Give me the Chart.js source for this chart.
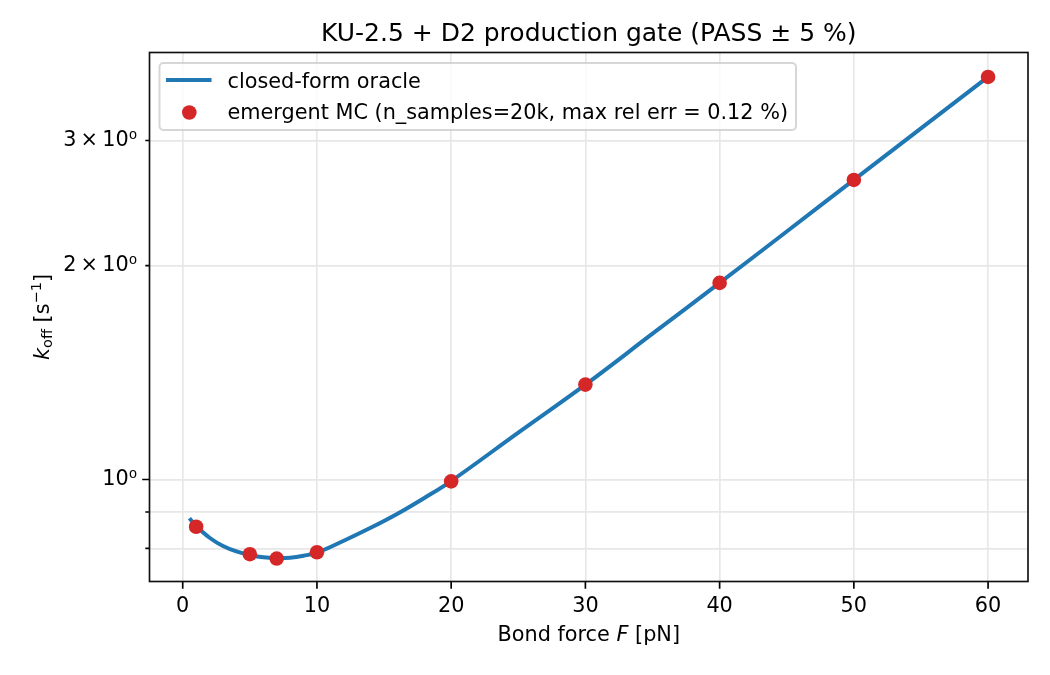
<!DOCTYPE html>
<html lang="en">
<head>
    <meta charset="UTF-8">
    <title>KU-2.5 + D2 production gate</title>
    <style>
        html, body {
            margin: 0;
            padding: 0;
            background: #fff;
        }

        canvas {
            display: block;
        }
    </style>
</head>
<body>
<canvas id="gate-chart" width="1050" height="675"></canvas>
<script src="https://cdn.jsdelivr.net/npm/chart.js@4.4.1/dist/chart.umd.min.js"></script>
<script>
    // closed-form oracle curve
    const forceLine = [0.5, 1, 2, 3, 4, 5, 6, 7, 8, 9, 10, 12, 14, 16, 18, 20, 25, 30, 35, 40, 45, 50, 55, 60];
    const koffLine = [0.882, 0.860, 0.828, 0.806, 0.792, 0.783, 0.777, 0.775, 0.776, 0.781, 0.789, 0.820,
        0.855, 0.895, 0.942, 0.995, 1.164, 1.360, 1.604, 1.891, 2.234, 2.640, 3.120, 3.686];

    // emergent MC points
    const forceMC = [1, 5, 7, 10, 20, 30, 40, 50, 60];
    const koffMC = [0.858, 0.785, 0.774, 0.790, 0.994, 1.360, 1.891, 2.640, 3.686];

    const xTicks = [0, 10, 20, 30, 40, 50, 60];
    const yTicks = [0.8, 0.9, 1, 2, 3];
    const yTickLabels = ['', '', '10⁰', '2\u2009×\u200910⁰', '3\u2009×\u200910⁰'];
    const yMajorTicks = [1];

    const FONT = 'DejaVu Sans';
    const FS = 20.8;

    Chart.defaults.font.family = FONT;
    Chart.defaults.font.size = FS;
    Chart.defaults.color = '#000';

    // draw a row of text pieces (different fonts / offsets) centred on cx
    function drawRuns(ctx, runs, cx, baseline) {
        let total = 0;
        runs.forEach(r => {
            ctx.font = r.font;
            r.w = ctx.measureText(r.text).width;
            total += r.w;
        });
        let x = cx - total / 2;
        ctx.textAlign = 'left';
        ctx.textBaseline = 'alphabetic';
        runs.forEach(r => {
            ctx.font = r.font;
            ctx.fillText(r.text, x, baseline + (r.dy || 0));
            x += r.w;
        });
    }

    const decor = {
        id: 'decor',
        afterDraw(chart) {
            const ctx = chart.ctx;
            const {left, top, right, bottom} = chart.chartArea;
            const xs = chart.scales.x;
            const ys = chart.scales.y;
            const cx = (left + right) / 2;
            ctx.save();

            // tick marks
            ctx.strokeStyle = '#000';
            ctx.lineWidth = 1.67;
            ctx.beginPath();
            xTicks.forEach(v => {
                const px = xs.getPixelForValue(v);
                ctx.moveTo(px, bottom);
                ctx.lineTo(px, bottom + 7.3);
            });
            yTicks.forEach(v => {
                const py = ys.getPixelForValue(v);
                const len = yMajorTicks.includes(v) ? 7.3 : 4.2;
                ctx.moveTo(left, py);
                ctx.lineTo(left - len, py);
            });
            ctx.stroke();

            // spines
            ctx.strokeStyle = '#111';
            ctx.strokeRect(left, top, right - left, bottom - top);

            // title
            ctx.fillStyle = '#000';
            ctx.font = `25px "${FONT}"`;
            ctx.textAlign = 'center';
            ctx.textBaseline = 'alphabetic';
            ctx.fillText('KU-2.5 + D2 production gate (PASS ± 5 %)', cx, 41);

            // x axis title
            drawRuns(ctx, [
                {text: 'Bond force ', font: `${FS}px "${FONT}"`},
                {text: 'F', font: `italic ${FS}px "${FONT}"`},
                {text: ' [pN]', font: `${FS}px "${FONT}"`}
            ], cx, 641);

            // y axis title, rotated
            ctx.save();
            ctx.translate(48.5, (top + bottom) / 2);
            ctx.rotate(-Math.PI / 2);
            const small = FS * 0.7;
            drawRuns(ctx, [
                {text: 'k', font: `italic ${FS}px "${FONT}"`},
                {text: 'off', font: `${small}px "${FONT}"`, dy: 3},
                {text: ' [s', font: `${FS}px "${FONT}"`},
                {text: '−1', font: `${small}px "${FONT}"`, dy: -8},
                {text: ']', font: `${FS}px "${FONT}"`}
            ], 0, 0);
            ctx.restore();

            // legend
            const lx = 159.5, ly = 63, lw = 636.5, lh = 67;
            ctx.beginPath();
            ctx.roundRect(lx, ly, lw, lh, 4);
            ctx.fillStyle = 'rgba(255,255,255,0.8)';
            ctx.fill();
            ctx.strokeStyle = 'rgba(204,204,204,0.8)';
            ctx.lineWidth = 2;
            ctx.stroke();

            const sets = chart.data.datasets;
            ctx.strokeStyle = sets[1].borderColor;
            ctx.lineWidth = 4;
            ctx.beginPath();
            ctx.moveTo(166, 80);
            ctx.lineTo(211.5, 80);
            ctx.stroke();

            ctx.fillStyle = sets[0].pointBackgroundColor;
            ctx.beginPath();
            ctx.arc(189.3, 112.5, 7.3, 0, Math.PI * 2);
            ctx.fill();

            ctx.fillStyle = '#000';
            ctx.font = `${FS}px "${FONT}"`;
            ctx.textAlign = 'left';
            ctx.fillText(sets[1].label, 227.5, 88);
            ctx.fillText(sets[0].label, 227.5, 118.5);

            ctx.restore();
        }
    };

    const chart = new Chart('gate-chart', {
        type: 'line',
        data: {
            datasets: [{
                label: 'emergent MC (n_samples=20k, max rel err = 0.12 %)',
                data: forceMC.map((f, i) => ({x: f, y: koffMC[i]})),
                showLine: false,
                pointRadius: 7.3,
                pointHoverRadius: 7.3,
                pointBackgroundColor: '#d62728',
                pointBorderWidth: 0,
                order: 1
            }, {
                label: 'closed-form oracle',
                data: forceLine.map((f, i) => ({x: f, y: koffLine[i]})),
                borderColor: '#1f77b4',
                borderWidth: 4,
                pointRadius: 0,
                tension: 0.4,
                order: 2
            }]
        },
        options: {
            responsive: false,
            animation: false,
            layout: {
                padding: {left: 0, top: 52.5, right: 22, bottom: 0}
            },
            plugins: {
                legend: {display: false},
                title: {display: false},
                tooltip: {enabled: false}
            },
            scales: {
                x: {
                    type: 'linear',
                    bounds: 'data',
                    min: -2.475,
                    max: 62.975,
                    afterBuildTicks: s => {
                        s.ticks = xTicks.map(v => ({value: v}));
                    },
                    afterFit: s => {
                        s.height = 93.5;
                    },
                    grid: {
                        color: '#e7e7e7',
                        lineWidth: 1.67,
                        drawTicks: false
                    },
                    border: {display: false},
                    ticks: {
                        padding: 13,
                        maxRotation: 0,
                        autoSkip: false,
                        callback: v => String(v)
                    }
                },
                y: {
                    type: 'logarithmic',
                    bounds: 'data',
                    min: 0.7185,
                    max: 3.99,
                    afterBuildTicks: s => {
                        s.ticks = yTicks.map(v => ({value: v}));
                    },
                    afterFit: s => {
                        s.width = 149.5;
                    },
                    grid: {
                        color: '#e7e7e7',
                        lineWidth: 1.67,
                        drawTicks: false
                    },
                    border: {display: false},
                    ticks: {
                        padding: 12.5,
                        autoSkip: false,
                        callback: (v, i) => yTickLabels[i]
                    }
                }
            }
        },
        plugins: [decor]
    });
</script>
</body>
</html>
